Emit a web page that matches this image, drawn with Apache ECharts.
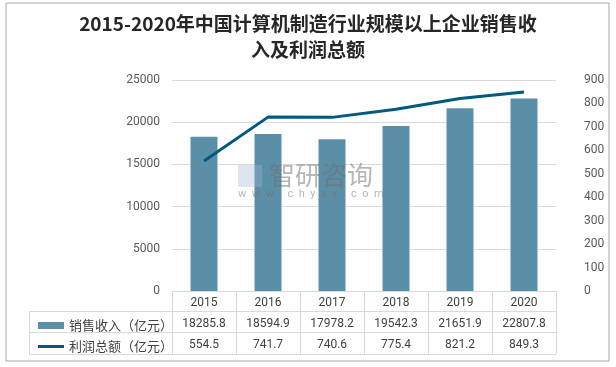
<!DOCTYPE html>
<html><head><meta charset="utf-8">
<script src="https://cdn.jsdelivr.net/npm/echarts@6/dist/echarts.min.js"></script>
<style>html,body{margin:0;padding:0;background:#fff}#c{width:616px;height:367px}</style>
</head><body><div id="c"></div>
<script>
const years = ['2015','2016','2017','2018','2019','2020'];
const sales = [18285.8, 18594.9, 17978.2, 19542.3, 21651.9, 22807.8];
const profit = [554.5, 741.7, 740.6, 775.4, 821.2, 849.3];
const salesName = '销售收入（亿元）';
const profitName = '利润总额（亿元）';
const titleText = '2015-2020年中国计算机制造行业规模以上企业销售收\n入及利润总额';

const font = '"Noto Sans CJK SC", "Noto Sans", sans-serif';
const numFont = 'Roboto, "Noto Sans", sans-serif';
const chart = echarts.init(document.getElementById('c'));
const gridL = 172, gridR = 556, axisY = 291;
const legendText = {fontSize: 13, color: '#404040', fontFamily: font};
chart.setOption({
  backgroundColor: '#fff',
  animation: false,
  textStyle: {fontFamily: font},
  title: {
    text: titleText, left: 'center', top: 6,
    textStyle: {fontSize: 19, fontWeight: 'bold', color: '#262626', lineHeight: 26, fontFamily: font}
  },
  legend: [
    {left: 33, top: 314, itemWidth: 26, itemHeight: 7, itemGap: 0, textStyle: legendText,
     data: [{name: salesName, icon: 'rect'}]},
    {left: 33, top: 335, itemWidth: 26, itemHeight: 3, itemGap: 0, textStyle: legendText,
     data: [{name: profitName, icon: 'rect'}]}
  ],
  grid: {left: gridL, right: 616 - gridR, top: 80, bottom: 367 - axisY},
  xAxis: {
    type: 'category', data: years, boundaryGap: true,
    axisLine: {lineStyle: {color: '#d9d9d9'}},
    axisTick: {show: true, length: 63, lineStyle: {color: '#d9d9d9'}},
    axisLabel: {
      margin: 1, interval: 0,
      formatter: (v, i) => `{y|${v}}\n{v|${sales[i].toFixed(1)}}\n{v|${profit[i].toFixed(1)}}`,
      rich: {
        y: {fontSize: 12, color: '#404040', lineHeight: 21, fontFamily: numFont},
        v: {fontSize: 12, color: '#404040', lineHeight: 21, fontFamily: numFont}
      }
    }
  },
  yAxis: [
    {type: 'value', min: 0, max: 25000, interval: 5000,
     axisLine: {show: false}, axisTick: {show: false},
     axisLabel: {margin: 12, fontSize: 12, color: '#595959', fontFamily: numFont, formatter: v => String(v)},
     splitLine: {lineStyle: {color: '#d9d9d9'}}},
    {type: 'value', min: 0, max: 900, interval: 100,
     axisLine: {show: false}, axisTick: {show: false},
     axisLabel: {margin: 28, fontSize: 12, color: '#595959', fontFamily: numFont},
     splitLine: {show: false}}
  ],
  series: [
    {name: salesName, type: 'bar', data: sales, barWidth: 27, itemStyle: {color: '#5B8FA8'}},
    {name: profitName, type: 'line', yAxisIndex: 1, data: profit, symbol: 'none',
     lineStyle: {color: '#005A80', width: 3}, itemStyle: {color: '#005A80'}}
  ],
  graphic: [
    {type: 'rect', shape: {x: 6, y: 3, width: 603, height: 358}, style: {fill: 'none', stroke: '#a6a6a6', lineWidth: 1}, z: -1},
    {type: 'line', shape: {x1: 29, y1: 311.5, x2: gridR, y2: 311.5}, style: {stroke: '#d9d9d9', lineWidth: 1}},
    {type: 'line', shape: {x1: 29, y1: 332.5, x2: gridR, y2: 332.5}, style: {stroke: '#d9d9d9', lineWidth: 1}},
    {type: 'line', shape: {x1: 29, y1: 354.5, x2: gridR, y2: 354.5}, style: {stroke: '#d9d9d9', lineWidth: 1}},
    {type: 'line', shape: {x1: 29.5, y1: 311, x2: 29.5, y2: 355}, style: {stroke: '#d9d9d9', lineWidth: 1}},
    {type: 'text', left: 269, top: 162, style: {text: '智研咨询', fontSize: 26, fill: 'rgba(110,110,110,0.5)', fontFamily: font}, z: 100},
    {type: 'text', left: 238, top: 189, style: {text: 'w  w  w  .  c  h  y  x  x  .  c  o  m', fontSize: 11, fill: 'rgba(110,110,110,0.5)', fontFamily: numFont}, z: 100},
    {type: 'rect', shape: {x: 238, y: 165, width: 24, height: 22}, style: {fill: 'rgba(160,180,210,0.35)'}, z: 100}
  ]
});
</script></body></html>
